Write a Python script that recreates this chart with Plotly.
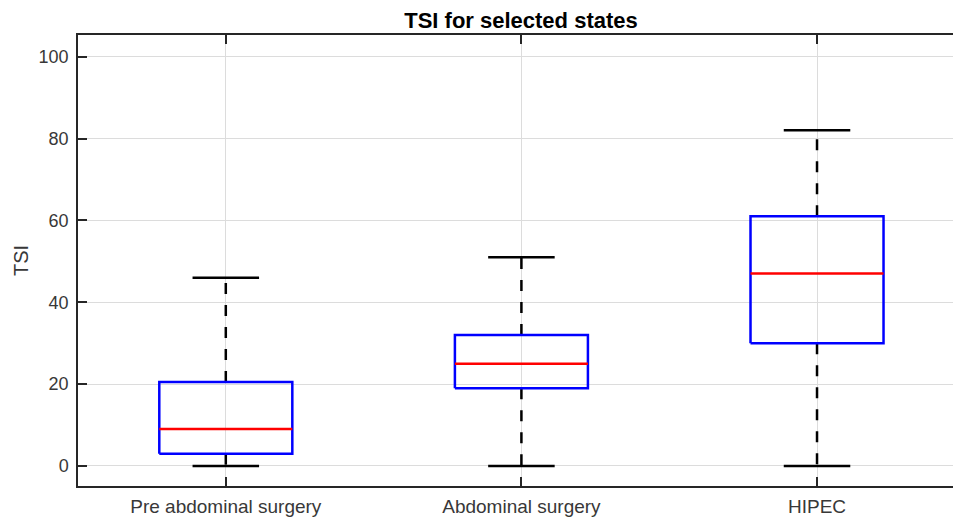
import plotly.graph_objects as go

# Box-plot summary statistics of TSI per state
categories = ["Pre abdominal surgery", "Abdominal surgery", "HIPEC"]
lower_whisker = [0, 0, 0]
q1 = [3, 19, 30]
median = [9, 25, 47]
q3 = [20.5, 32, 61]
upper_whisker = [46, 51, 82]

y_ticks = [0, 20, 40, 60, 80, 100]

BOX_W = 0.45   # box width in category units
CAP_W = 0.225  # whisker cap width
LW = 2.5
DASH = "11px,11px"
AX = "#262626"
TXT = "#383838"

W, H = 953, 517
ML, MR, MT, MB = 78, 0, 35, 31

fig = go.Figure()

for i, name in enumerate(categories):
    xc = i + 1
    # whiskers (dashed), drawn outward from the box
    fig.add_trace(go.Scatter(x=[xc, xc], y=[q3[i], upper_whisker[i]], mode="lines",
                             line=dict(color="black", width=LW, dash=DASH),
                             hoverinfo="skip", showlegend=False))
    fig.add_trace(go.Scatter(x=[xc, xc], y=[q1[i], lower_whisker[i]], mode="lines",
                             line=dict(color="black", width=LW, dash=DASH),
                             hoverinfo="skip", showlegend=False))
    # caps
    for v in (upper_whisker[i], lower_whisker[i]):
        fig.add_trace(go.Scatter(x=[xc - CAP_W / 2, xc + CAP_W / 2], y=[v, v], mode="lines",
                                 line=dict(color="black", width=LW),
                                 hoverinfo="skip", showlegend=False))
    # box
    x0, x1 = xc - BOX_W / 2, xc + BOX_W / 2
    fig.add_trace(go.Scatter(x=[x0, x1, x1, x0, x0], y=[q1[i], q1[i], q3[i], q3[i], q1[i]],
                             mode="lines", line=dict(color="#0000ff", width=LW),
                             hoverinfo="skip", showlegend=False, name=name))
    # median
    fig.add_trace(go.Scatter(x=[x0, x1], y=[median[i], median[i]], mode="lines",
                             line=dict(color="#ff0000", width=LW),
                             hoverinfo="skip", showlegend=False))

FONT = "Liberation Sans, Arial, Helvetica, sans-serif"

fig.update_layout(
    width=W, height=H,
    margin=dict(l=ML, r=MR, t=MT, b=MB),
    paper_bgcolor="white", plot_bgcolor="white",
    font=dict(family=FONT, size=18, color=TXT),
    title=dict(text="<b>TSI for selected states</b>", x=521 / W, xref="container",
               xanchor="center", y=1 - 20 / H, yref="container", yanchor="middle",
               font=dict(family=FONT, size=22, color="black")),
    xaxis=dict(range=[0.5, 3.46], tickmode="array", tickvals=[1, 2, 3], ticktext=categories,
               tickfont=dict(family=FONT, size=19, color=TXT), automargin=False,
               showgrid=True, gridcolor="#dcdcdc", gridwidth=1, zeroline=False,
               showline=True, linecolor=AX, linewidth=1.5, mirror="ticks",
               ticks="inside", ticklen=9, tickwidth=1.5, tickcolor=AX,
               ticklabelstandoff=2),
    yaxis=dict(range=[-4.9, 105.3], tickmode="array", tickvals=y_ticks,
               tickfont=dict(family=FONT, size=18, color=TXT), automargin=False,
               showgrid=True, gridcolor="#dcdcdc", gridwidth=1, zeroline=False,
               showline=True, linecolor=AX, linewidth=1.5, mirror=False,
               ticks="inside", ticklen=9, tickwidth=1.5, tickcolor=AX,
               ticklabelstandoff=4),
    annotations=[dict(text="TSI", textangle=-90, xref="paper", yref="paper",
                      x=(20.5 - ML) / (W - ML - MR), y=0.5, xanchor="center", yanchor="middle",
                      showarrow=False, font=dict(family=FONT, size=20, color=TXT))],
)

fig.write_html("out.html")
